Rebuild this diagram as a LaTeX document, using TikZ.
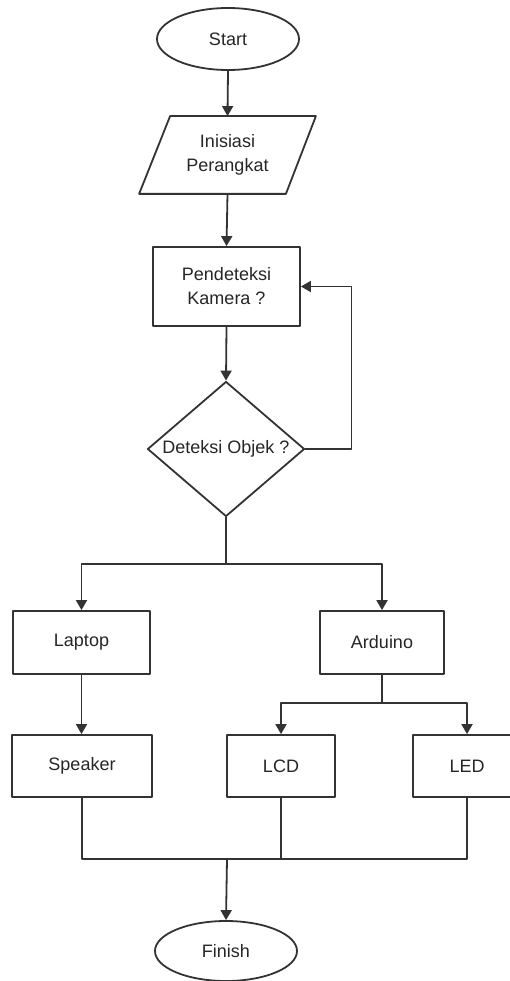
\documentclass[tikz,border=0pt]{standalone}
\usepackage{fontspec}
\setmainfont{Liberation Sans}
\usetikzlibrary{shapes.geometric,arrows.meta,calc}
\begin{document}
\begin{tikzpicture}[x=1pt,y=-1pt,
  line width=1.8pt, draw=black!80, line join=round,
  every node/.style={font=\fontsize{18}{24}\selectfont, text=black!85, align=center, inner sep=0pt},
  terminal/.style={ellipse, draw, minimum width=142pt, minimum height=62pt},
  procbox/.style={rectangle, draw, minimum height=63pt},
  decision/.style={diamond, draw, shape aspect=1.16, minimum width=157pt, minimum height=135pt},
  arr/.style={-{Triangle[length=10pt,width=11pt]}}]
\useasboundingbox (0,0) rectangle (510,981);
\fill[white] (0,0) rectangle (510,981);

\node[terminal] (start) at (228,39) {Start};
\node[minimum width=175pt, minimum height=76pt] (init) at (227.5,155) {Inisiasi\\Perangkat};
\draw ($(init.north west)+(31,0)$) -- (init.north east) -- ($(init.south east)+(-30,0)$) -- (init.south west) -- cycle;
\node[procbox, minimum width=147pt, minimum height=79pt] (cam) at (226.5,286.5) {Pendeteksi\\Kamera ?};
\node[decision] (dec) at (226,449) {Deteksi Objek ?};
\node[procbox, minimum width=137pt] (laptop) at (81.5,642.5) {Laptop};
\node[procbox, minimum width=124pt] (arduino) at (382,642.5) {Arduino};
\node[procbox, minimum width=140pt, minimum height=62pt] (speaker) at (82,766) {Speaker};
\node[procbox, minimum width=108pt, minimum height=62pt] (lcd) at (281,766) {LCD};
\node[procbox, minimum width=108pt, minimum height=62pt] (led) at (467,766) {LED};
\node[terminal, minimum height=60pt] (finish) at (226,951) {Finish};

\coordinate (s1) at (226,564);
\coordinate (s2) at (382,703);
\coordinate (j) at (227,859);

\draw[arr] (start.south) -- (init.north);
\draw[arr] (init.south) -- (cam.north);
\draw[arr] (cam.south) -- (dec.north);
\draw[arr] (dec.east) -- ++(46,0) |- (cam.east);
\draw (dec.south) -- (s1);
\draw[arr] (s1) -| (laptop.north);
\draw[arr] (s1) -| (arduino.north);
\draw[arr] (laptop.south) -- (laptop.south |- speaker.north);
\draw (arduino.south) -- (s2);
\draw[arr] (s2) -| (lcd.north);
\draw[arr] (s2) -| (led.north);
\draw (speaker.south) |- (lcd.south |- j) -| (led.south);
\draw (lcd.south) -- (lcd.south |- j);
\draw[arr] (j) -- (finish.north);
\end{tikzpicture}
\end{document}
